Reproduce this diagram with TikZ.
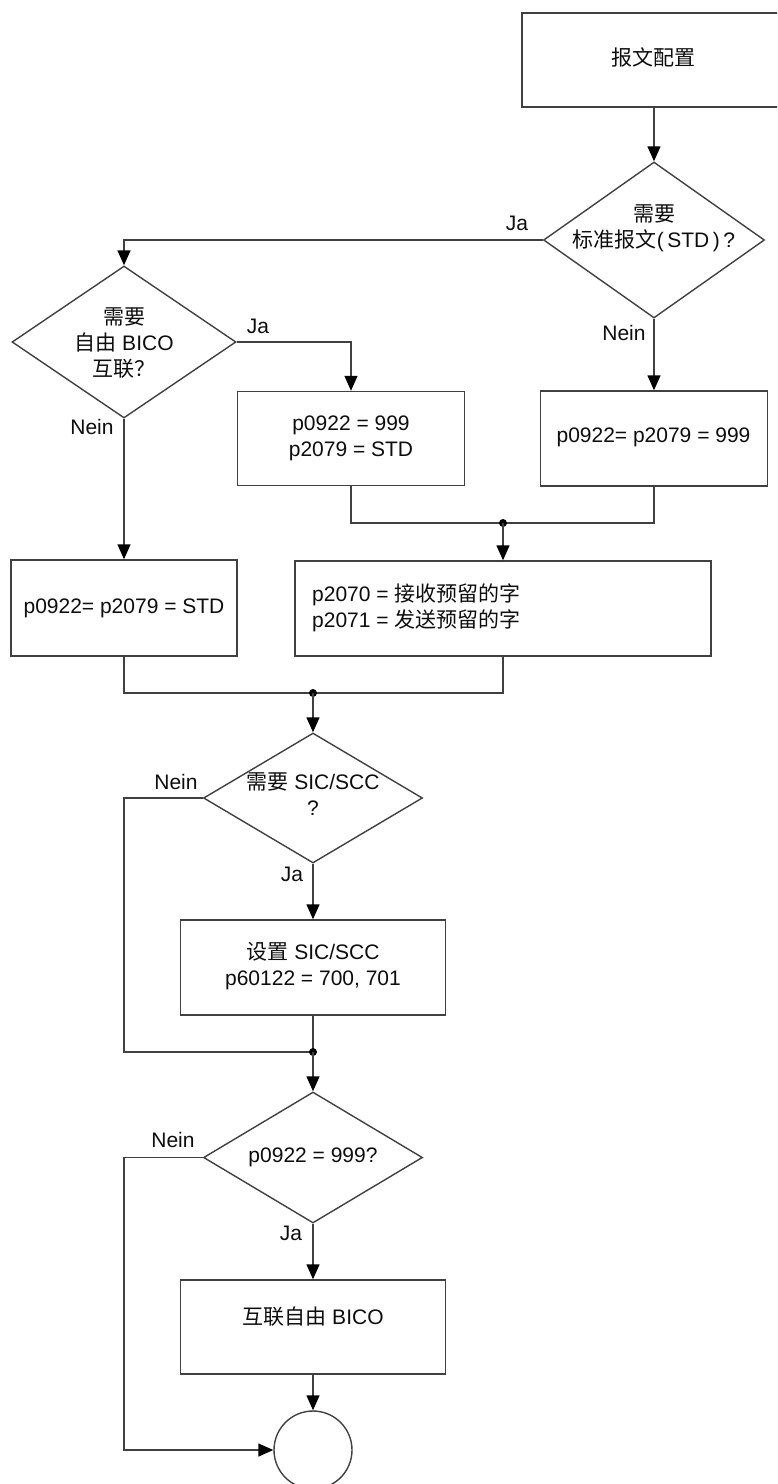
\documentclass[tikz,border=0pt]{standalone}
\usepackage{fontspec}
\setmainfont{Liberation Sans}
\newfontfamily\cjk{Noto Sans CJK SC}
\usetikzlibrary{shapes.geometric,arrows.meta}
\newcommand{\zh}[1]{{\cjk #1}}
\begin{document}
\begin{tikzpicture}[x=1pt,y=-1pt,
  line/.style={draw=black!75, line width=1.4pt},
  arr/.style={line, -{Triangle[length=15pt,width=13pt,fill=black,color=black]}},
  box/.style={draw=black!75, line width=1.4pt, rectangle, inner sep=0pt},
  dia/.style={draw=black!75, line width=1.4pt, diamond, inner sep=0pt},
  txt/.style={font=\fontsize{21}{26}\selectfont, text=black!95, align=center, inner sep=0pt},
  lbl/.style={font=\fontsize{21}{24}\selectfont, text=black!95, inner sep=0pt},
  jdot/.style={circle, fill=black, inner sep=0pt, minimum size=8pt}
]
\useasboundingbox (0,0) rectangle (777,1484);
\clip (0,0) rectangle (777,1484);

% start box
\node[box, minimum width=264pt, minimum height=94pt] (b0) at (654,60) {};
\node[txt] (t0) at (653,57) {\zh{报文配置}};

% decision 1
\node[dia, minimum width=221pt, minimum height=156pt] (d1) at (654,240) {};
\node[txt] (t1) at (654,228) {\zh{需要}\\\zh{标准报文}(\,STD\,)\,?};
\draw[arr] (b0) -- (d1.north);

% decision 2
\node[dia, minimum width=224pt, minimum height=152pt] (d2) at (124,342) {};
\node[txt] (t2) at (124,343) {\zh{需要}\\\zh{自由} BICO\\\zh{互联？}};
\draw[arr] (d1.west) -| (d2.north);
\node[lbl] (lja1) at (517,223) {Ja};

% boxes row 1
\node[box, minimum width=227pt, minimum height=94pt] (b1) at (351,438.5) {};
\node[txt] (t3) at (351,438) {p0922 = 999\\p2079 = STD};
\node[box, minimum width=227pt, minimum height=95pt] (b2) at (654,438.5) {};
\node[txt] (t4) at (653.5,437) {p0922= p2079 = 999};
\draw[arr] (d2.east) -| (b1.north);
\node[lbl] (lja2) at (258,326) {Ja};
\draw[arr] (d1.south) -- (b2.north);
\node[lbl] (lnein1) at (624,333) {Nein};

% boxes row 2
\node[box, minimum width=226pt, minimum height=96pt] (b3) at (124,608) {};
\node[txt] (t5) at (124,608) {p0922= p2079 = STD};
\node[box, minimum width=416pt, minimum height=95pt] (b4) at (503,608.5) {};
\node[txt, align=left, anchor=west] (t6) at (312,608) {p2070 = \zh{接收预留的字}\\p2071 = \zh{发送预留的字}};
\draw[arr] (d2.south) -- (b3.north);
\node[lbl] (lnein2) at (92,427) {Nein};

% junction 1
\coordinate (j1) at (503,523);
\draw[line] (b1.south) |- (j1);
\draw[line] (b2.south) |- (j1);
\node[jdot] (jd1) at (j1) {};
\draw[arr] (j1) -- (b4.north);

% junction 2
\coordinate (j2) at (313,693);
\draw[line] (b3.south) |- (j2);
\draw[line] (b4.south) |- (j2);
\node[jdot] (jd2) at (j2) {};

% decision 3
\node[dia, minimum width=219pt, minimum height=130pt] (d3) at (313,798) {};
\node[txt] (t7) at (313,794) {\zh{需要} SIC/SCC\\?};
\draw[arr] (j2) -- (d3.north);
\node[lbl] (lnein3) at (176,782) {Nein};

% SIC/SCC box
\node[box, minimum width=265pt, minimum height=95pt] (b5) at (313,967.5) {};
\node[txt] (t8) at (313,966) {\zh{设置} SIC/SCC\\p60122 = 700, 701};
\draw[arr] (d3.south) -- (b5.north);
\node[lbl] (lja3) at (292,874) {Ja};

% junction 3
\coordinate (j3) at (313,1052);
\coordinate (c3) at (124,798);
\draw[line] (d3.west) -- (c3) |- (j3);
\draw[line] (b5.south) -- (j3);
\node[jdot] (jd3) at (j3) {};

% decision 4
\node[dia, minimum width=219pt, minimum height=131pt] (d4) at (313,1157.5) {};
\node[txt] (t9) at (313,1157) {p0922 = 999?};
\draw[arr] (j3) -- (d4.north);
\node[lbl] (lnein4) at (173,1140) {Nein};

% BICO box
\node[box, minimum width=265pt, minimum height=94pt] (b6) at (313,1327) {};
\node[txt] (t10) at (313,1317) {\zh{互联自由} BICO};
\draw[arr] (d4.south) -- (b6.north);
\node[lbl] (lja4) at (291,1233) {Ja};

% end circle
\node[draw=black!75, line width=1.4pt, circle, minimum size=78pt, inner sep=0pt] (end) at (313,1450) {};
\draw[arr] (b6.south) -- (end.north);
\coordinate (c4) at (124,1157.5);
\draw[arr] (d4.west) -- (c4) |- (end.west);
\end{tikzpicture}
\end{document}
